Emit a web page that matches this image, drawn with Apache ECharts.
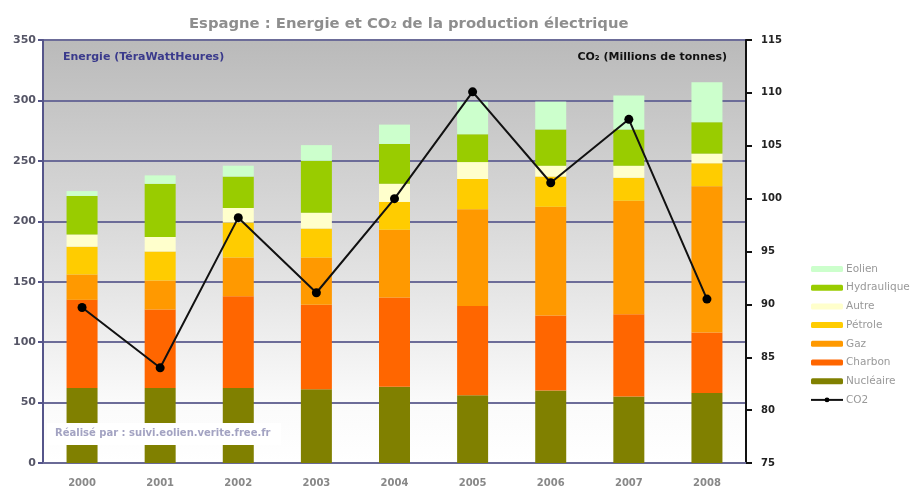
<!DOCTYPE html>
<html>
<head>
<meta charset="utf-8">
<script src="https://cdn.jsdelivr.net/npm/echarts@6/dist/echarts.min.js"></script>
<style>
html,body{margin:0;padding:0;background:#fff;}
#c{width:911px;height:488px;}
</style>
</head>
<body>
<div id="c"></div>
<script>
const years = ['2000','2001','2002','2003','2004','2005','2006','2007','2008'];
const nucleaire   = [62, 62, 62, 61, 63, 56, 60, 55, 58];
const charbon     = [73, 65, 76, 70, 74, 74, 62, 68, 50];
const gaz         = [21, 24, 32, 39, 56, 80, 90, 94, 121];
const petrole     = [23, 24, 29, 24, 23, 25, 25, 19, 19];
const autre       = [10, 12, 12, 13, 15, 14, 9, 10, 8];
const hydraulique = [32, 44, 26, 43, 33, 23, 30, 30, 26];
const eolien      = [4, 7, 9, 13, 16, 27, 23, 28, 33];
const co2         = [89.7, 84.0, 98.2, 91.1, 100.0, 110.1, 101.5, 107.5, 90.5];

const chart = echarts.init(document.getElementById('c'));
const F = 'DejaVu Sans, Liberation Sans, sans-serif';
function bar(name, data, color) {
  return { name, type: 'bar', stack: 'e', data, barWidth: 31,
    itemStyle: { color }, emphasis: { disabled: true } };
}
chart.setOption({
  animation: false,
  title: {
    text: 'Espagne : Energie et CO₂ de la production électrique',
    left: 184, top: 12,
    textStyle: { fontFamily: F, fontSize: 14.8, fontWeight: 'bold', color: '#8e8e8e' }
  },
  grid: {
    left: 43, right: 165, top: 40, bottom: 25, show: true, borderWidth: 0,
    backgroundColor: new echarts.graphic.LinearGradient(0, 0, 0, 1, [
      { offset: 0, color: '#bababa' },
      { offset: 0.55, color: '#e2e2e2' },
      { offset: 0.85, color: '#fafafa' },
      { offset: 1, color: '#ffffff' }
    ])
  },
  legend: {
    orient: 'vertical', left: 805, top: 258, itemWidth: 32, itemHeight: 6, itemGap: 6.7,
    textStyle: { fontFamily: F, fontSize: 10.5, color: '#999999', lineHeight: 12, padding: [0, 0, 0, -2] },
    data: ['Eolien','Hydraulique','Autre','Pétrole','Gaz','Charbon','Nucléaire','CO2']
  },
  xAxis: {
    type: 'category', data: years,
    axisLine: { lineStyle: { color: '#6a6a96', width: 2 } },
    axisTick: { show: false },
    axisLabel: { fontFamily: F, fontSize: 10, fontWeight: 'bold', color: '#888888', margin: 15 }
  },
  yAxis: [
    { type: 'value', min: 0, max: 350, interval: 50, position: 'left',
      axisLine: { show: true, lineStyle: { color: '#55558a', width: 2 } },
      axisTick: { show: true, length: 5, lineStyle: { color: '#55558a', width: 2 } },
      axisLabel: { fontFamily: F, fontSize: 11, fontWeight: 'bold', color: '#555566', margin: 7 },
      splitLine: { lineStyle: { color: '#6c6c98', width: 2 } }
    },
    { type: 'value', min: 75, max: 115, interval: 5, position: 'right',
      axisLine: { show: true, lineStyle: { color: '#111', width: 2 } },
      axisTick: { show: true, length: 6, lineStyle: { color: '#111', width: 2 } },
      axisLabel: { fontFamily: F, fontSize: 10, fontWeight: 'bold', color: '#222', margin: 15 },
      splitLine: { show: false }
    }
  ],
  series: [
    bar('Nucléaire', nucleaire, '#808000'),
    bar('Charbon', charbon, '#ff6600'),
    bar('Gaz', gaz, '#ff9900'),
    bar('Pétrole', petrole, '#ffcc00'),
    bar('Autre', autre, '#ffffcc'),
    bar('Hydraulique', hydraulique, '#99cc00'),
    bar('Eolien', eolien, '#ccffcc'),
    { name: 'CO2', type: 'line', yAxisIndex: 1, data: co2, symbol: 'circle', symbolSize: 9,
      lineStyle: { color: '#111', width: 2 }, itemStyle: { color: '#000' }, z: 5,
      emphasis: { disabled: true } }
  ],
  graphic: [
    { type: 'text', left: 63, top: 52, z: 100,
      style: { text: 'Energie (TéraWattHeures)', fontFamily: F, fontSize: 11, fontWeight: 'bold', fill: '#3a3a8c' } },
    { type: 'text', right: 184, top: 52, z: 100,
      style: { text: 'CO₂ (Millions de tonnes)', fontFamily: F, fontSize: 11, fontWeight: 'bold', fill: '#111' } },
    { type: 'rect', z: 100, shape: { x: 47, y: 423, width: 234, height: 22 }, style: { fill: '#ffffff' } },
    { type: 'text', left: 55, top: 428, z: 101,
      style: { text: 'Réalisé par : suivi.eolien.verite.free.fr', fontFamily: F, fontSize: 10, fontWeight: 'bold', fill: '#a3a3c2' } }
  ]
});
</script>
</body>
</html>
